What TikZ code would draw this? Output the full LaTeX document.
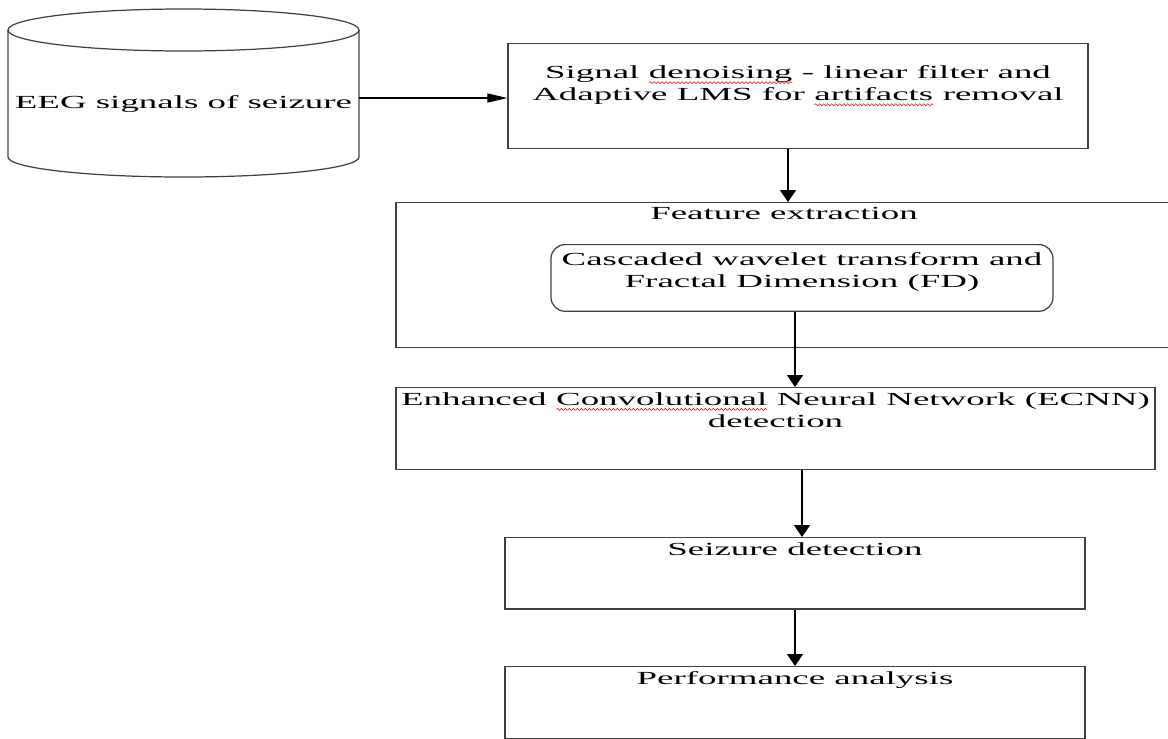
\documentclass[tikz,border=0pt]{standalone}
\usepackage{fontspec}
\setmainfont{Liberation Serif}[FakeStretch=2.0]
\usepackage{xcolor}
\usetikzlibrary{arrows.meta,decorations.pathmorphing}
\newcommand{\spellwave}[1]{\tikz[baseline=(spw.base),x=1cm,y=1cm]{\node[draw=none,inner sep=0pt,outer sep=0pt,minimum width=0pt,minimum height=0pt,text height=,text depth=,anchor=base,rounded corners=0pt] (spw) {#1};
  \draw[red,line width=0.3pt,decorate,decoration={snake,amplitude=0.2mm,segment length=0.8mm}] ([yshift=-0.8mm]spw.base west) -- ([yshift=-0.8mm]spw.base east);}}

\begin{document}
\begin{tikzpicture}[x=0.2mm,y=-0.2mm,font=\fontsize{10.5}{12.6}\selectfont,
  box/.style={draw=black!75,line width=0.7pt,align=center,inner xsep=1pt,inner ysep=1mm,anchor=north},
  flow/.style={line width=0.9pt,-{Triangle[length=2.4mm,width=3.2mm]}},
  feed/.style={line width=0.6pt,-{Triangle[length=4mm,width=1.8mm]}}]
\useasboundingbox (0,0) rectangle (1168,738);
\draw[draw=black!75,line width=0.7pt] (183.5,30) ellipse [x radius=175.5,y radius=21];
\draw[draw=black!75,line width=0.7pt] (8,30) -- (8,157) arc[start angle=180,end angle=0,x radius=175.5,y radius=20] -- (359,30);
\node[inner sep=0pt,minimum width=70.2mm,text height=5mm,text depth=1mm] (eeg) at (183.5,98) {EEG signals of seizure};
\node[box,inner ysep=4.4mm,minimum width=116mm,text depth=5.2mm] (den) at (798,43) {Signal \spellwave{denoising} - linear filter and\\Adaptive LMS for \spellwave{artifacts} removal};
\node[box,minimum width=155.2mm,text depth=24.5mm] (fex) at (784,202) {Feature extraction};
\node[box,rounded corners=2.8mm,inner ysep=1.5mm,minimum width=100.4mm,text depth=3.3mm] (cwt) at (802,244) {Cascaded wavelet transform and\\Fractal Dimension (FD)};
\node[box,minimum width=151.8mm,text depth=7.4mm] (ecnn) at (775.5,387) {Enhanced \spellwave{Convolutional} Neural Network (ECNN)\\detection};
\node[box,minimum width=116mm,text depth=9.7mm] (sz) at (795,537) {Seizure detection};
\node[box,minimum width=116mm,text depth=9.7mm] (perf) at (795,666) {Performance analysis};
\draw[feed] (eeg.east) -- (eeg.east -| den.west);
\draw[flow] ([xshift=-2mm]den.south) -- ([xshift=-2mm]den.south |- fex.north);
\draw[flow] ([xshift=-1.4mm]cwt.south) -- ([xshift=-1.4mm]cwt.south |- ecnn.north);
\draw[flow] ([xshift=5.3mm]ecnn.south) -- ([xshift=5.3mm]ecnn.south |- sz.north);
\draw[flow] (sz.south) -- (perf.north);
\end{tikzpicture}
\end{document}
